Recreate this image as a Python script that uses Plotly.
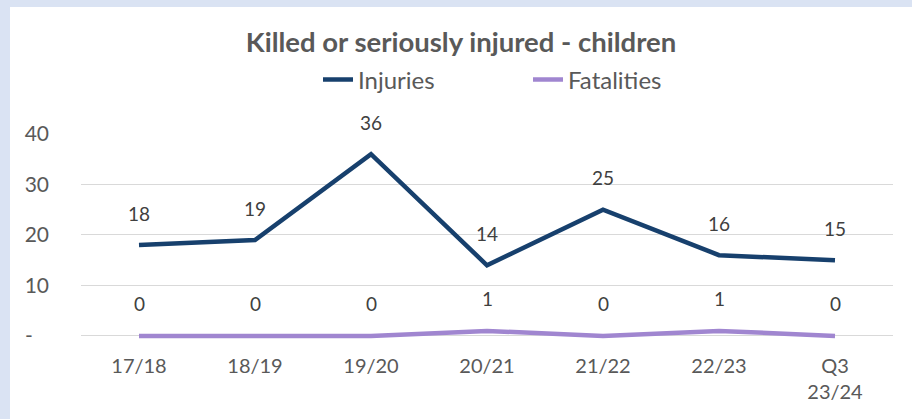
import plotly.graph_objects as go

categories = ["17/18", "18/19", "19/20", "20/21", "21/22", "22/23", "Q3<br>23/24"]
injuries = [18, 19, 36, 14, 25, 16, 15]
fatalities = [0, 0, 0, 1, 0, 1, 0]
y_tick_vals = [0, 10, 20, 30, 40]
y_tick_text = ["-\u00a0\u00a0\u00a0", "10", "20", "30", "40"]

FONT = "Lato, Carlito, Calibri, sans-serif"
INJ_COLOR = "#17406D"
FAT_COLOR = "#A086D0"
TXT = "#595959"

W, H = 912, 419
L, R, T, B = 81, 19, 134, 78

fig = go.Figure()
fig.add_trace(go.Scatter(x=categories, y=injuries, mode="lines", name="Injuries",
                         line=dict(color=INJ_COLOR, width=4.5)))
fig.add_trace(go.Scatter(x=categories, y=fatalities, mode="lines", name="Fatalities",
                         line=dict(color=FAT_COLOR, width=4.5)))

annotations = []
for series in (injuries, fatalities):
    for c, v in zip(categories, series):
        annotations.append(dict(x=c, y=v, text=str(v), showarrow=False, yshift=32,
                                yanchor="middle", font=dict(family=FONT, size=19, color="#404040")))

pw = W - L - R
ph = H - T - B
fig.add_shape(type="rect", xref="paper", yref="paper",
              x0=(10 - L) / pw, x1=(W + 5 - L) / pw,
              y0=-(B + 5) / ph, y1=(H - B - 7) / ph,
              fillcolor="white", line=dict(width=0), layer="below")

fig.update_layout(
    width=W, height=H,
    margin=dict(l=L, r=R, t=T, b=B, autoexpand=False),
    paper_bgcolor="#DAE3F3",
    plot_bgcolor="white",
    title=dict(text="<b>Killed or seriously injured - children</b>", x=461 / W, xanchor="center",
               y=1 - 42 / H, yanchor="middle", font=dict(family=FONT, size=27.5, color=TXT)),
    legend=dict(orientation="h", x=528 / W, xanchor="center", xref="container",
                y=1 - 80 / H, yanchor="middle", yref="container", entrywidth=165,
                font=dict(family=FONT, size=24, color=TXT), bgcolor="rgba(0,0,0,0)"),
    annotations=annotations,
    showlegend=True,
)
fig.update_xaxes(type="category", range=[-0.5, 6.5], showgrid=False, showline=False, zeroline=False,
                 ticks="", tickfont=dict(family=FONT, size=20, color=TXT), ticklabelstandoff=11)
fig.update_yaxes(range=[-1, 40], tickvals=y_tick_vals, ticktext=y_tick_text, showgrid=True,
                 gridcolor="#D9D9D9", gridwidth=1.3, zeroline=False, showline=False, ticks="",
                 tickfont=dict(family=FONT, size=21, color=TXT), ticklabelstandoff=31)

fig.write_html("out.html", config={"displayModeBar": False},
               post_script="document.body.style.margin='0';")
